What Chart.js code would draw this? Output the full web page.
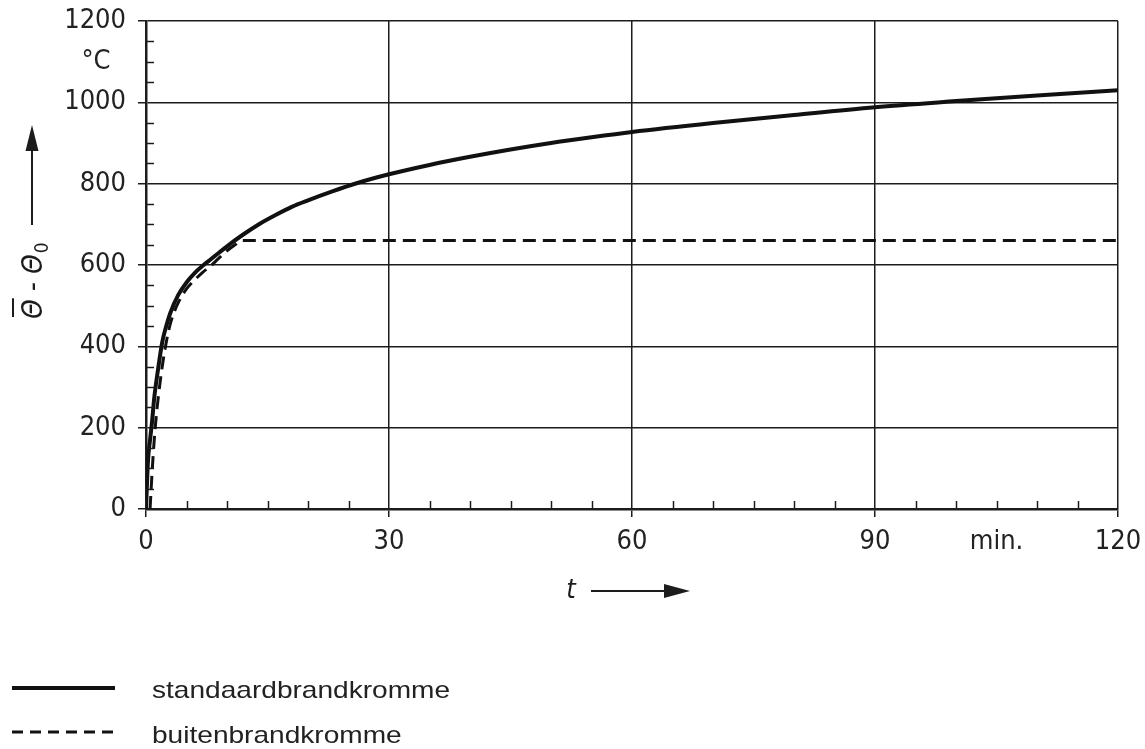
<!DOCTYPE html>
<html><head><meta charset="utf-8">
<script src="https://cdn.jsdelivr.net/npm/chart.js@4.4.1/dist/chart.umd.min.js"></script>
<style>html,body{margin:0;padding:0;background:#fff}#wrap{width:1145px;height:749px}</style>
</head><body><div id="wrap"><canvas id="c" width="1145" height="749"></canvas></div>
<script>
// standaardbrandkromme
const stdTime = [0, 0.25, 0.5, 0.75, 1, 1.5, 2, 2.5, 3, 4, 5, 6, 7, 8, 9, 10, 12, 14, 16, 18, 20, 23, 26, 30, 35, 40, 45, 50, 55, 60, 70, 80, 90, 100, 110, 120];
const stdTemp = [0, 120, 170, 215, 270, 345, 410, 450, 482, 527, 557, 580, 598, 614, 630, 646, 675, 701, 723, 743, 759, 781, 801, 823, 846, 866, 884, 900, 914, 927, 949, 969, 988, 1003, 1017, 1030];
// buitenbrandkromme
const extTime = [0.5, 0.75, 1, 1.25, 1.5, 2, 2.5, 3, 3.5, 4, 5, 6, 7, 8, 9, 10, 11, 11.8, 120];
const extTemp = [0, 90, 165, 225, 272, 350, 410, 455, 485, 508, 541, 563, 582, 598, 617, 635, 650, 660, 660];

const xTickLabels = {0:'0', 30:'30', 60:'60', 90:'90', 105:'min.', 120:'120'};
const yTickLabels = {0:'0', 200:'200', 400:'400', 600:'600', 800:'800', 1000:'1000', 1100:'°C  ', 1200:'1200'};
const seriesNames = ['standaardbrandkromme', 'buitenbrandkromme'];
const xTitle = 't';

const INK = '#1c1c1c';
const TICK_FONT = '"Liberation Sans Narrow", "DejaVu Sans Condensed", sans-serif';

const toPts = (xs, ys) => xs.map((x, i) => ({x, y: ys[i]}));

const decor = {
  id: 'decor',
  afterDraw(chart) {
    const ctx = chart.ctx;
    const xs = chart.scales.x, ys = chart.scales.y;
    const a = chart.chartArea;
    ctx.save();
    ctx.strokeStyle = INK;
    ctx.fillStyle = INK;
    ctx.lineWidth = 1.5;
    // minor ticks, inward
    for (let t = 5; t < 120; t += 5) {
      if (t % 30 === 0) continue;
      const px = Math.round(xs.getPixelForValue(t)) + 0.5;
      ctx.beginPath(); ctx.moveTo(px, a.bottom); ctx.lineTo(px, a.bottom - 8); ctx.stroke();
    }
    for (let v = 50; v < 1200; v += 50) {
      if (v % 200 === 0) continue;
      const py = Math.round(ys.getPixelForValue(v)) + 0.5;
      ctx.beginPath(); ctx.moveTo(a.left, py); ctx.lineTo(a.left + 8, py); ctx.stroke();
    }
    // y-axis title, rotated
    ctx.save();
    ctx.translate(31, 281);
    ctx.rotate(-Math.PI / 2);
    ctx.font = 'italic 28px ' + TICK_FONT;
    ctx.textBaseline = 'alphabetic';
    let x0 = -38;
    const th = 'Θ';
    const wTh = ctx.measureText(th).width;
    ctx.fillText(th, x0, 11);
    ctx.lineWidth = 2;
    ctx.beginPath(); ctx.moveTo(x0 + 2, -18); ctx.lineTo(x0 + wTh + 1, -18); ctx.stroke();
    x0 += wTh;
    const dash = ' - ';
    ctx.fillText(dash, x0, 11);
    x0 += ctx.measureText(dash).width;
    ctx.fillText(th, x0, 11);
    x0 += wTh;
    ctx.font = '19px ' + TICK_FONT;
    ctx.fillText('0', x0 + 1, 17);
    ctx.restore();
    // y arrow
    ctx.lineWidth = 2;
    ctx.beginPath(); ctx.moveTo(32, 225); ctx.lineTo(32, 145); ctx.stroke();
    ctx.beginPath(); ctx.moveTo(32, 125); ctx.lineTo(38.5, 151); ctx.lineTo(25.5, 151); ctx.closePath(); ctx.fill();
    // x title + arrow
    ctx.font = 'italic 27px ' + TICK_FONT;
    ctx.textAlign = 'center'; ctx.textBaseline = 'middle';
    ctx.fillText(xTitle, 571, 591);
    ctx.beginPath(); ctx.moveTo(591, 591); ctx.lineTo(670, 591); ctx.stroke();
    ctx.beginPath(); ctx.moveTo(690, 591); ctx.lineTo(664, 584); ctx.lineTo(664, 598); ctx.closePath(); ctx.fill();
    // legend
    const ds = chart.data.datasets;
    const rows = [{y: 688, ty: 698}, {y: 732, ty: 743}];
    ds.forEach((d, i) => {
      ctx.save();
      ctx.strokeStyle = d.borderColor;
      ctx.lineWidth = d.borderWidth;
      ctx.setLineDash(i === 0 ? [] : [11, 7]);
      ctx.beginPath(); ctx.moveTo(12, rows[i].y); ctx.lineTo(115, rows[i].y); ctx.stroke();
      ctx.restore();
      ctx.save();
      ctx.fillStyle = '#222';
      ctx.font = '24px "Liberation Sans", Arial, sans-serif';
      ctx.textAlign = 'left'; ctx.textBaseline = 'alphabetic';
      ctx.translate(152, rows[i].ty);
      ctx.scale(1.17, 1);
      ctx.fillText(d.label, 0, 0);
      ctx.restore();
    });
    ctx.restore();
  }
};

const majorX = c => (c.tick && c.tick.value % 30 === 0) ? INK : 'rgba(0,0,0,0)';
const majorY = c => (c.tick && c.tick.value % 200 === 0) ? INK : 'rgba(0,0,0,0)';

new Chart(document.getElementById('c'), {
  type: 'line',
  data: {
    datasets: [
      {label: seriesNames[0], data: toPts(stdTime, stdTemp), borderColor: '#111', borderWidth: 4,
       pointRadius: 0, cubicInterpolationMode: 'monotone', fill: false},
      {label: seriesNames[1], data: toPts(extTime, extTemp), borderColor: '#111', borderWidth: 3,
       borderDash: [13, 7], pointRadius: 0, cubicInterpolationMode: 'monotone', fill: false}
    ]
  },
  options: {
    responsive: false, animation: false, devicePixelRatio: 1,
    layout: {padding: {top: 21, right: 27, bottom: 0, left: 0}},
    plugins: {legend: {display: false}, tooltip: {enabled: false}},
    scales: {
      x: {
        type: 'linear', min: 0, max: 120,
        ticks: {stepSize: 5, autoSkip: false, maxRotation: 0, padding: 9, color: '#222',
                font: {family: TICK_FONT, size: 27},
                callback: v => xTickLabels[v] ?? ''},
        grid: {color: majorX, tickColor: majorX, lineWidth: 1.5, tickLength: 8},
        border: {color: INK, width: 2.5},
        afterFit: s => { s.height = 240; s.paddingLeft = 0; s.paddingRight = 0; s.paddingTop = 0; s.paddingBottom = 0; }
      },
      y: {
        min: 0, max: 1200,
        ticks: {stepSize: 50, autoSkip: false, padding: 12, color: '#222',
                font: {family: TICK_FONT, size: 27},
                callback: v => yTickLabels[v] ?? ''},
        grid: {color: majorY, tickColor: majorY, lineWidth: 1.5, tickLength: 8},
        border: {color: INK, width: 2.5},
        afterFit: s => { s.width = 146; s.paddingLeft = 0; s.paddingRight = 0; s.paddingTop = 0; s.paddingBottom = 0; }
      }
    }
  },
  plugins: [decor]
});
</script></body></html>
